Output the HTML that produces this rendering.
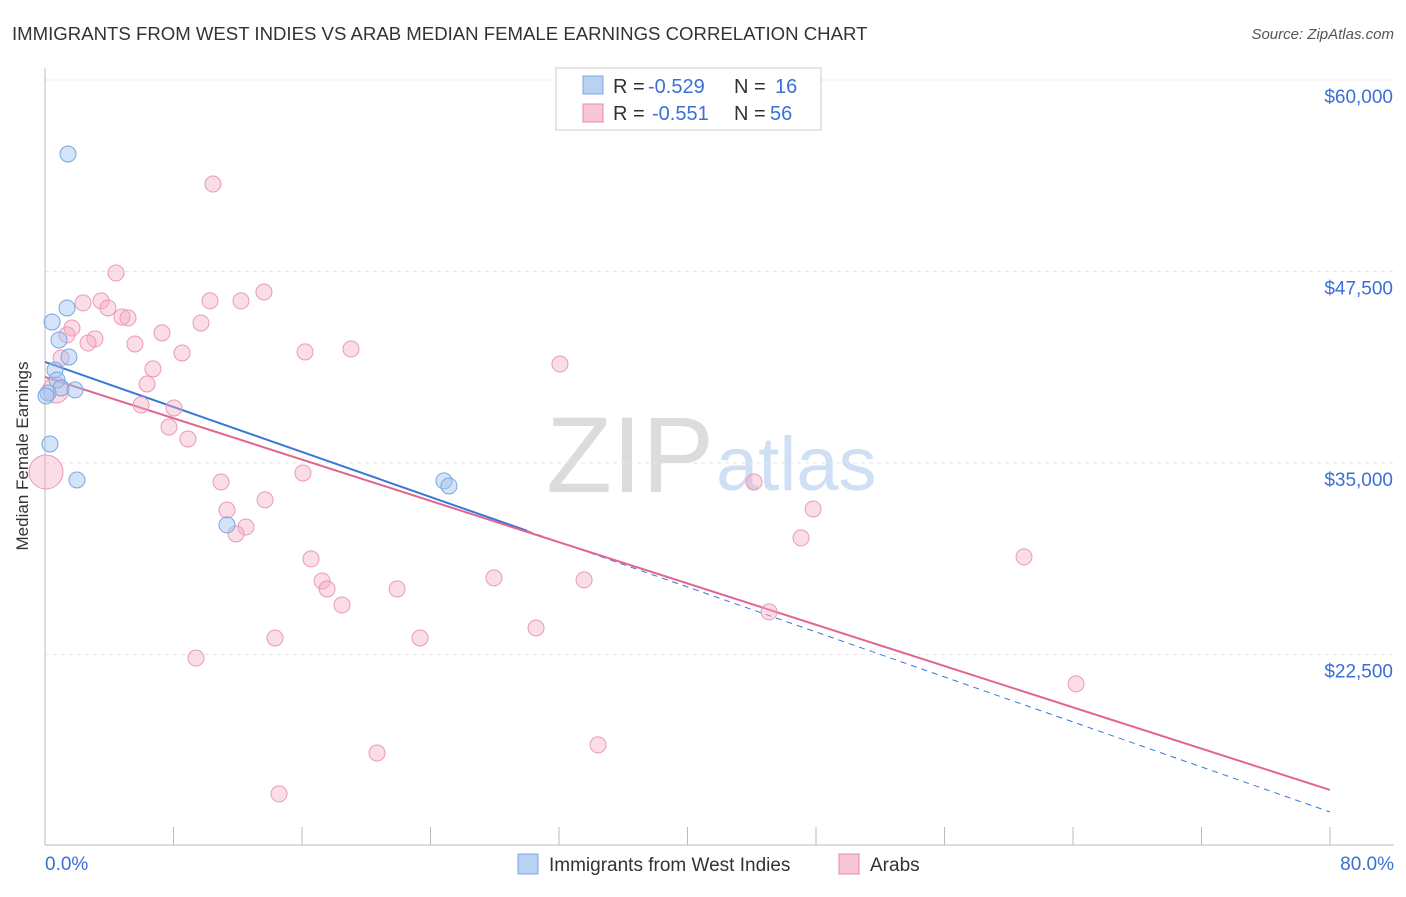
<!DOCTYPE html>
<html><head><meta charset="utf-8"><style>
body{margin:0;background:#fff;font-family:"Liberation Sans",sans-serif;}
svg text{font-family:"Liberation Sans",sans-serif;}
</style></head><body>
<svg id="chart" width="1406" height="892" xmlns="http://www.w3.org/2000/svg">
<text x="12" y="40" font-size="18.6" fill="#333">IMMIGRANTS FROM WEST INDIES VS ARAB MEDIAN FEMALE EARNINGS CORRELATION CHART</text>
<text x="1394" y="39" font-size="15" fill="#555" font-style="italic" text-anchor="end">Source: ZipAtlas.com</text>
<text x="714" y="492" font-size="108" fill="#dcdcdc" text-anchor="end" font-family="Liberation Serif">ZIP</text>
<text x="716" y="490" font-size="76" fill="#cfe0f4">atlas</text>
<text transform="translate(28,456) rotate(-90)" font-size="17" fill="#333" text-anchor="middle">Median Female Earnings</text>
<g id="grid"></g><g id="axes"></g><g id="lines"></g><g id="pts"></g>
<g>
<rect x="556" y="68" width="265" height="62" fill="#fff" stroke="#ccc"/>
<rect x="583" y="76" width="20" height="18" fill="#b9d2f3" stroke="#7aa6e0"/>
<text x="613" y="93" font-size="20" fill="#333">R =</text>
<text x="648" y="93" font-size="20" fill="#3b6fd4">-0.529</text>
<text x="734" y="93" font-size="20" fill="#333">N =</text>
<text x="775" y="93" font-size="20" fill="#3b6fd4">16</text>
<rect x="583" y="104" width="20" height="18" fill="#f8c6d4" stroke="#e88aa8"/>
<text x="613" y="120" font-size="20" fill="#333">R =</text>
<text x="652" y="120" font-size="20" fill="#3b6fd4">-0.551</text>
<text x="734" y="120" font-size="20" fill="#333">N =</text>
<text x="770" y="120" font-size="20" fill="#3b6fd4">56</text>
</g>
<g>
<rect x="518" y="854" width="20" height="20" fill="#b9d2f3" stroke="#7aa6e0"/>
<text x="549" y="871" font-size="19" fill="#333">Immigrants from West Indies</text>
<rect x="839" y="854" width="20" height="20" fill="#f8c6d4" stroke="#e88aa8"/>
<text x="870" y="871" font-size="19" fill="#333">Arabs</text>
</g>
</svg>
<script>
const blueX=[1.43,1.37,0.44,0.87,1.49,0.62,0.75,1.0,1.87,0.19,0.06,0.31,1.99,11.33,24.84,25.15];
const blueY=[55170,45120,44200,43030,41920,41070,40420,39900,39770,39570,39370,36240,33890,30960,33830,33500];
const pinkX=[10.46,4.42,13.63,10.27,12.2,2.37,3.49,3.92,4.79,5.17,9.71,1.68,7.28,1.37,3.11,2.68,5.6,16.19,19.05,8.53,1.0,32.06,6.72,6.35,0.68,5.98,8.03,7.72,8.9,0.06,10.96,16.06,44.14,13.7,11.33,47.82,12.51,11.89,47.07,16.56,60.95,17.25,27.95,33.56,17.56,21.92,18.49,45.08,30.57,14.32,23.35,9.4,64.19,34.43,20.67,14.57];
const pinkY=[53210,47400,46160,45580,45580,45450,45580,45120,44530,44470,44140,43810,43490,43360,43100,42830,42770,42250,42440,42180,41850,41460,41140,40160,39770,38790,38590,37350,36570,34410,33760,34350,33760,32590,31930,32000,30820,30370,30110,28740,28870,27300,27500,27370,26780,26780,25730,25280,24230,23580,23580,22270,20580,16600,16070,13400];
const pinkR=[8,8,8,8,8,8,8,8,8,8,8,8,8,8,8,8,8,8,8,8,8,8,8,8,13,8,8,8,8,17,8,8,8,8,8,8,8,8,8,8,8,8,8,8,8,8,8,8,8,8,8,8,8,8,8,8];
const yTicks=[22500,35000,47500,60000];
const yTickLabels=["$22,500","$35,000","$47,500","$60,000"];
const xTicks=[0,8,16,24,32,40,48,56,64,72,80];
const blueTrend=[41594,12222];
const pinkTrend=[40615,13658];
const NS="http://www.w3.org/2000/svg";
const sx=v=>45+v/80*1285;
const sy=v=>80+(60000-v)*0.01532;
function mk(tag,parent,attrs){const e=document.createElementNS(NS,tag);for(const k in attrs)e.setAttribute(k,attrs[k]);document.getElementById(parent).appendChild(e);return e;}
yTicks.forEach((t,i)=>{
 const l=mk('line','grid',{x1:45,x2:1394,y1:sy(t),y2:sy(t),stroke:'#e6e6e6','stroke-dasharray':'4,4'});
 
 
 const tx=mk('text','axes',{x:1393,y:sy(t)+23,'font-size':19,fill:'#3b6fd4','text-anchor':'end'});
 tx.textContent=yTickLabels[i];
 
 
});
const ax=mk('line','axes',{x1:45,x2:1394,y1:845,y2:845,stroke:'#bbb'});


const ay=mk('line','axes',{x1:45,x2:45,y1:68,y2:845,stroke:'#bbb'});


xTicks.forEach(t=>{
 const l=mk('line','axes',{x1:sx(t),x2:sx(t),y1:827,y2:845,stroke:'#bbb'});
 
 
});
const xl0=mk('text','axes',{x:45,y:870,'font-size':19,fill:'#3b6fd4'});xl0.textContent='0.0%';


const xl1=mk('text','axes',{x:1394,y:870,'font-size':19,fill:'#3b6fd4','text-anchor':'end'});xl1.textContent='80.0%';


const bAt=p=>blueTrend[0]+(blueTrend[1]-blueTrend[0])*p/80;
const bl=mk('line','lines',{x1:sx(0),y1:sy(bAt(0)),x2:sx(30),y2:sy(bAt(30)),stroke:'#3a78d8','stroke-width':2});


const bd=mk('line','lines',{x1:sx(30),y1:sy(bAt(30)),x2:sx(80),y2:sy(bAt(80)),stroke:'#3a78d8','stroke-width':1,'stroke-dasharray':'6,5'});


const pl=mk('line','lines',{x1:sx(0),y1:sy(pinkTrend[0]),x2:sx(80),y2:sy(pinkTrend[1]),stroke:'#e0668f','stroke-width':2});


pinkX.forEach((x,i)=>{
 const c=mk('circle','pts',{cx:sx(x),cy:sy(pinkY[i]),r:pinkR[i],fill:'rgba(244,170,195,0.4)',stroke:'#e99ab4','stroke-width':1});
 
 
});
blueX.forEach((x,i)=>{
 const c=mk('circle','pts',{cx:sx(x),cy:sy(blueY[i]),r:8,fill:'rgba(160,195,240,0.45)',stroke:'#7aa6e0','stroke-width':1});
 
 
});
</script>
</body></html>
